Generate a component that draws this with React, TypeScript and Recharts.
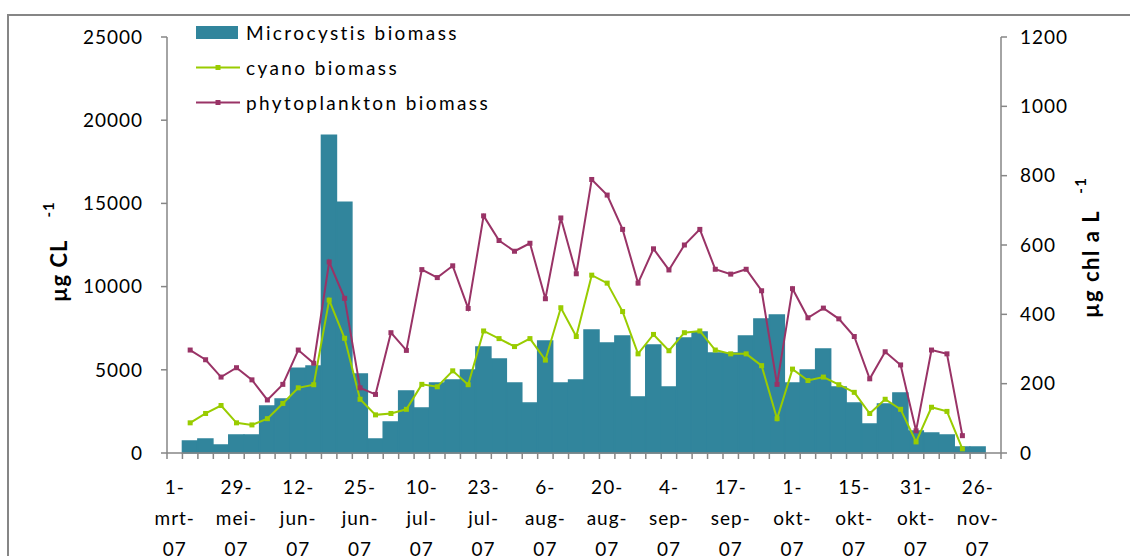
import React from "react";
import {
  ComposedChart,
  Bar,
  Line,
  XAxis,
  YAxis,
  Legend,
  Label,
} from "recharts";

// sample dates (only every 4th one is labelled on the axis)
const dates = [
  "1-mrt-07", "3-apr-07", "24-apr-07", "14-mei-07",
  "29-mei-07", "1-jun-07", "5-jun-07", "8-jun-07",
  "12-jun-07", "15-jun-07", "19-jun-07", "22-jun-07",
  "25-jun-07", "29-jun-07", "3-jul-07", "6-jul-07",
  "10-jul-07", "13-jul-07", "17-jul-07", "20-jul-07",
  "23-jul-07", "27-jul-07", "31-jul-07", "3-aug-07",
  "6-aug-07", "10-aug-07", "14-aug-07", "17-aug-07",
  "20-aug-07", "24-aug-07", "28-aug-07", "31-aug-07",
  "4-sep-07", "7-sep-07", "11-sep-07", "14-sep-07",
  "17-sep-07", "21-sep-07", "25-sep-07", "28-sep-07",
  "1-okt-07", "5-okt-07", "9-okt-07", "12-okt-07",
  "15-okt-07", "19-okt-07", "23-okt-07", "26-okt-07",
  "31-okt-07", "5-nov-07", "12-nov-07", "19-nov-07",
  "26-nov-07", "3-dec-07",
];

// µg C/L, left axis
const microcystis = [
  null, 720, 840, 480, 1080, 1080, 2820, 3240, 5100, 5230,
  19100, 15070, 4750, 840, 1860, 3730, 2700, 4200, 4390, 4990,
  6370, 5650, 4200, 3000, 6730, 4200, 4390, 7390, 6610, 7030,
  3370, 6490, 3970, 6910, 7270, 6010, 6010, 7030, 8050, 8290,
  4200, 4990, 6250, 3970, 3000, 1740, 2950, 3610, 1320, 1200,
  1080, 360, 360, null,
];

// µg chl a/L, right axis
const cyano = [
  null, 87, 114, 137, 87, 81, 99, 143, 188, 197,
  441, 331, 155, 110, 114, 126, 198, 191, 237, 197,
  352, 330, 307, 330, 268, 419, 336, 513, 490, 408,
  286, 342, 295, 347, 352, 297, 286, 286, 252, 99,
  242, 209, 219, 197, 175, 114, 155, 126, 32, 132,
  120, 12, null, null,
];

const phyto = [
  null, 297, 269, 219, 246, 211, 153, 198, 297, 259,
  551, 446, 188, 169, 347, 296, 529, 506, 540, 417,
  684, 613, 582, 605, 445, 678, 517, 789, 744, 645,
  490, 589, 528, 600, 645, 530, 516, 530, 468, 198,
  474, 390, 418, 387, 336, 214, 292, 254, 64, 297,
  286, 50, null, null,
];

const leftTicks = [0, 5000, 10000, 15000, 20000, 25000];
const rightTicks = [0, 200, 400, 600, 800, 1000, 1200];

const BAR_COLOR = "#31859c";
const CYANO_COLOR = "#99cc00";
const PHYTO_COLOR = "#993366";
const AXIS_COLOR = "#868686";
const FONT = "Lato, 'Liberation Sans', sans-serif";

const data = dates.map((d, i) => ({
  date: d,
  microcystis: microcystis[i],
  cyano: cyano[i],
  phyto: phyto[i],
}));

function XTick(props: any) {
  const { x, y, payload, index } = props;
  const half = payload?.offset || 834 / 54 / 2;
  const parts = String(payload.value).match(/[^-]+-?/g) || [];
  const last = index === dates.length - 1;
  return (
    <g>
      <line x1={x - half} x2={x - half} y1={y} y2={y + 6} stroke={AXIS_COLOR} strokeWidth={1.5} />
      {last && <line x1={x + half} x2={x + half} y1={y} y2={y + 6} stroke={AXIS_COLOR} strokeWidth={1.5} />}
      {index % 4 === 0 && (
        <text textAnchor="middle" fontSize={19} fill="#000" fontFamily={FONT} style={{ letterSpacing: 1 }}>
          {parts.map((p, i) => (
            <tspan key={i} x={x} y={y + 41 + i * 31}>{p}</tspan>
          ))}
        </text>
      )}
    </g>
  );
}

function squareDot(color: string) {
  return (props: any) => {
    const { cx, cy, index } = props;
    if (cx == null || cy == null) return <g key={index} />;
    return <rect key={index} x={cx - 2.5} y={cy - 2.5} width={5} height={5} fill={color} />;
  };
}

function LeftTitle() {
  return (
    <text transform="translate(67,302) rotate(-90)" fontSize={22} fontWeight="bold" fill="#000" fontFamily={FONT} style={{ letterSpacing: 1 }}>
      µg CL
      <tspan dx={22} dy={-13} fontSize={15}>-1</tspan>
    </text>
  );
}

function RightTitle() {
  return (
    <text transform="translate(1099,318) rotate(-90)" fontSize={22} fontWeight="bold" fill="#000" fontFamily={FONT} style={{ letterSpacing: 1.5 }}>
      µg chl a L
      <tspan dx={16} dy={-13} fontSize={15}>-1</tspan>
    </text>
  );
}

function LegendBox() {
  const rows = [
    { name: "Microcystis biomass", color: BAR_COLOR, type: "bar" },
    { name: "cyano biomass", color: CYANO_COLOR, type: "line" },
    { name: "phytoplankton biomass", color: PHYTO_COLOR, type: "line" },
  ];
  return (
    <div style={{ fontFamily: FONT, fontSize: 19, color: "#000", letterSpacing: 2.4 }}>
      {rows.map((r) => (
        <div key={r.name} style={{ height: 35, display: "flex", alignItems: "center" }}>
          <svg width={50} height={35}>
            {r.type === "bar" ? (
              <rect x={0} y={11} width={42} height={13} fill={r.color} />
            ) : (
              <>
                <line x1={0} x2={44} y1={17.5} y2={17.5} stroke={r.color} strokeWidth={2} />
                <rect x={19.5} y={15} width={5} height={5} fill={r.color} />
              </>
            )}
          </svg>
          <span>{r.name}</span>
        </div>
      ))}
    </div>
  );
}

export default function App() {
  return (
    <div style={{ position: "fixed", left: 0, top: 0, width: 1130, height: 556, overflow: "hidden", background: "#fff" }}>
      <div style={{ position: "absolute", left: 7, top: 14, width: 1140, height: 560, border: `2px solid ${AXIS_COLOR}` }} />
      <div style={{ position: "absolute", left: 0, top: 0 }}>
        <ComposedChart
          width={1130}
          height={556}
          data={data}
          margin={{ top: 37, right: 0, bottom: 0, left: 0 }}
          barCategoryGap={0}
          barGap={0}
        >
          <XAxis
            dataKey="date"
            interval={0}
            height={103}
            tickSize={0}
            tickMargin={0}
            tickLine={false}
            axisLine={{ stroke: AXIS_COLOR, strokeWidth: 1.5 }}
            tick={<XTick />}
          />
          <YAxis
            yAxisId="left"
            width={167}
            domain={[0, 25000]}
            ticks={leftTicks}
            interval={0}
            tickSize={6}
            tickMargin={18}
            axisLine={{ stroke: AXIS_COLOR, strokeWidth: 1.5 }}
            tickLine={{ stroke: AXIS_COLOR, strokeWidth: 1.5 }}
            tick={{ fontSize: 19, fill: "#000", fontFamily: FONT, style: { letterSpacing: 1 } }}
          >
            <Label content={<LeftTitle />} />
          </YAxis>
          <YAxis
            yAxisId="right"
            orientation="right"
            width={129}
            domain={[0, 1200]}
            ticks={rightTicks}
            interval={0}
            tickSize={6}
            tickMargin={13}
            axisLine={{ stroke: AXIS_COLOR, strokeWidth: 1.5 }}
            tickLine={{ stroke: AXIS_COLOR, strokeWidth: 1.5 }}
            tick={{ fontSize: 19, fill: "#000", fontFamily: FONT, style: { letterSpacing: 1 } }}
          >
            <Label content={<RightTitle />} />
          </YAxis>
          <Legend
            layout="vertical"
            align="center"
            verticalAlign="middle"
            wrapperStyle={{ left: 196, top: 15, width: 360 }}
            content={<LegendBox />}
          />
          <Bar
            yAxisId="left"
            dataKey="microcystis"
            fill={BAR_COLOR}
            stroke={BAR_COLOR}
            strokeWidth={1.5}
            isAnimationActive={false}
          />
          <Line
            yAxisId="right"
            type="linear"
            dataKey="cyano"
            stroke={CYANO_COLOR}
            strokeWidth={2}
            dot={squareDot(CYANO_COLOR)}
            activeDot={false}
            isAnimationActive={false}
          />
          <Line
            yAxisId="right"
            type="linear"
            dataKey="phyto"
            stroke={PHYTO_COLOR}
            strokeWidth={2}
            dot={squareDot(PHYTO_COLOR)}
            activeDot={false}
            isAnimationActive={false}
          />
        </ComposedChart>
      </div>
    </div>
  );
}
